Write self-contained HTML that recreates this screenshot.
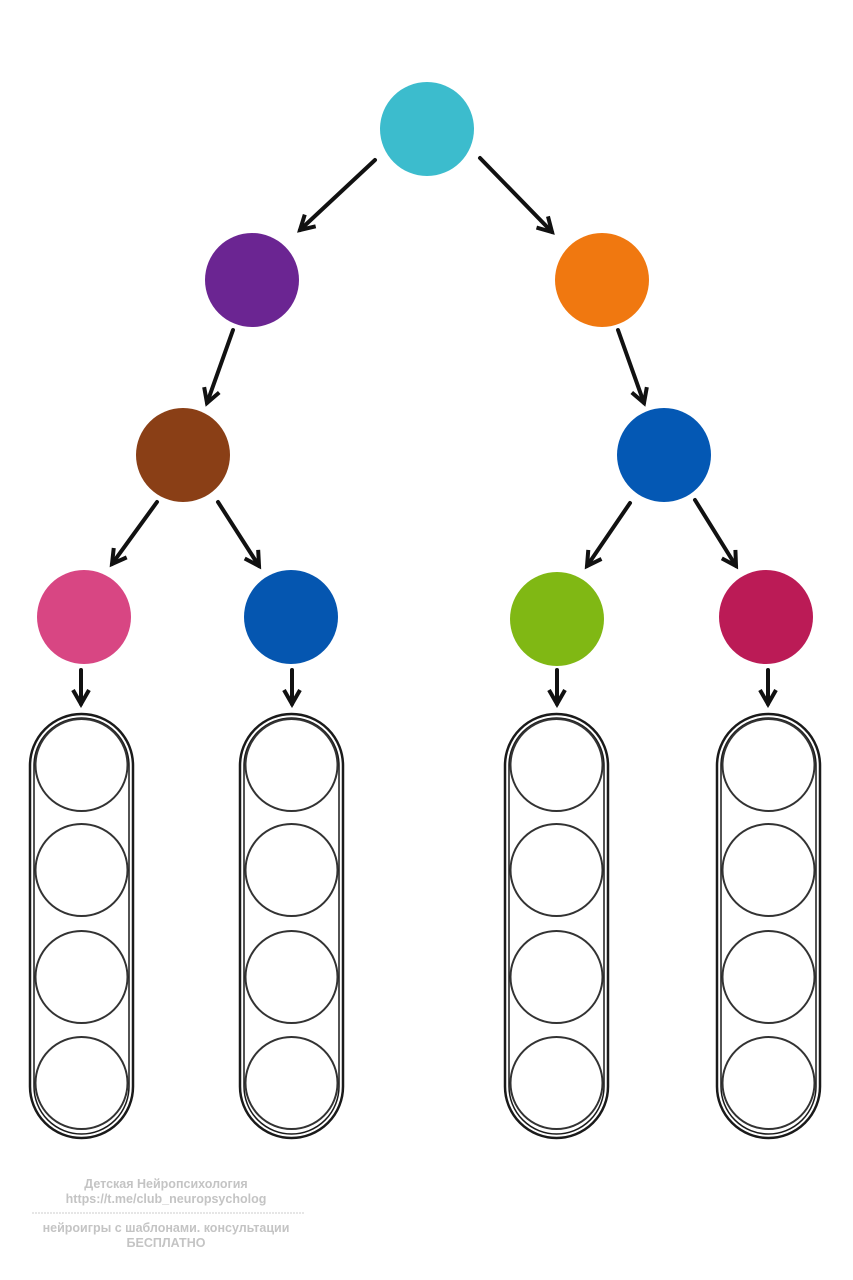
<!DOCTYPE html>
<html><head><meta charset="utf-8"><style>
html,body{margin:0;padding:0;background:#fff}
svg{display:block}
</style></head><body>
<svg width="853" height="1280" viewBox="0 0 853 1280" xmlns="http://www.w3.org/2000/svg">
<defs>
<marker id="a" viewBox="0 0 10 10" refX="8" refY="5" markerWidth="5" markerHeight="5" orient="auto">
<path d="M1,1 L8,5 L1,9" fill="none" stroke="#111" stroke-width="2"/>
</marker>
</defs>
<rect width="853" height="1280" fill="#fff"/>
<g stroke="#111" stroke-width="4" fill="none" marker-end="url(#a)" stroke-linecap="round">
<line x1="375" y1="160" x2="300" y2="230"/>
<line x1="480" y1="158" x2="552" y2="232"/>
<line x1="233" y1="330" x2="207" y2="403"/>
<line x1="618" y1="330" x2="644" y2="403"/>
<line x1="157" y1="502" x2="112" y2="564"/>
<line x1="218" y1="502" x2="259" y2="566"/>
<line x1="630" y1="503" x2="587" y2="566"/>
<line x1="695" y1="500" x2="736" y2="566"/>
<line x1="81" y1="670" x2="81" y2="704"/>
<line x1="292" y1="670" x2="292" y2="704"/>
<line x1="557" y1="670" x2="557" y2="704"/>
<line x1="768" y1="670" x2="768" y2="704"/>
</g>
<circle cx="427" cy="129" r="47" fill="#3cbccd"/>
<circle cx="252" cy="280" r="47" fill="#6b2592"/>
<circle cx="602" cy="280" r="47" fill="#f07810"/>
<circle cx="183" cy="455" r="47" fill="#8a3f16"/>
<circle cx="664" cy="455" r="47" fill="#0458b4"/>
<circle cx="84" cy="617" r="47" fill="#d84683"/>
<circle cx="291" cy="617" r="47" fill="#0556b0"/>
<circle cx="557" cy="619" r="47" fill="#80b814"/>
<circle cx="766" cy="617" r="47" fill="#bb1b56"/>
<g fill="none" stroke="#1a1a1a">
<g id="c">
<rect x="30" y="714" width="103" height="424" rx="51.5" stroke-width="2.5"/>
<rect x="34" y="718" width="95" height="416" rx="47.5" stroke-width="1.5"/>
<circle cx="81.5" cy="765" r="46" stroke-width="2" stroke="#333"/>
<circle cx="81.5" cy="870" r="46" stroke-width="2" stroke="#333"/>
<circle cx="81.5" cy="977" r="46" stroke-width="2" stroke="#333"/>
<circle cx="81.5" cy="1083" r="46" stroke-width="2" stroke="#333"/>
</g>
<use href="#c" x="210"/>
<use href="#c" x="475"/>
<use href="#c" x="687"/>
</g>
<g font-family="Liberation Sans, sans-serif" font-weight="bold" font-size="12.5" fill="#c4c4c4" text-anchor="middle">
<text x="166" y="1188">Детская Нейропсихология</text>
<text x="166" y="1203">https://t.me/club_neuropsycholog</text>
<line x1="32" y1="1213" x2="304" y2="1213" stroke="#ccc" stroke-width="1" stroke-dasharray="2,1"/>
<text x="166" y="1232">нейроигры с шаблонами. консультации</text>
<text x="166" y="1247">БЕСПЛАТНО</text>
</g>
</svg>
</body></html>
